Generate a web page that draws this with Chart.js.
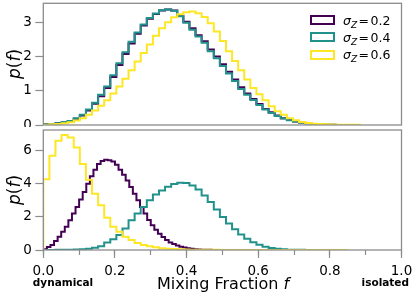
<!DOCTYPE html>
<html>
<head>
<meta charset="utf-8">
<script src="https://cdn.jsdelivr.net/npm/chart.js@4.4.1/dist/chart.umd.min.js"></script>
<style>
  html, body { margin: 0; padding: 0; background: #fff; }
  #wrap { position: relative; width: 416px; height: 298px; font-family: 'DejaVu Sans', sans-serif; color: #000; overflow: hidden; }
  #wrap canvas { position: absolute; left: 0; }
  .txt { position: absolute; white-space: nowrap; line-height: 1; }
  .ytitle { left: 14px; font-size: 17px; transform: translate(-50%, -50%) rotate(-90deg); }
  .xtitle { left: 223px; top: 276px; font-size: 16px; transform: translateX(-50%); }
  .side { top: 277px; font-size: 10.5px; font-weight: bold; }
  .leg-row { position: absolute; left: 310px; height: 13px; font-size: 12.5px; line-height: 13px; white-space: nowrap; }
  .leg-box { position: absolute; left: 0; top: 1.5px; width: 25px; height: 10px; box-sizing: border-box; border: 2px solid; background: #fff; }
  .leg-txt { position: absolute; left: 33px; top: 0; }
  .eq { margin: 0 1.5px; }
  .sub { font-size: 9px; font-style: italic; position: relative; top: 3px; }
</style>
</head>
<body>
<div id="wrap">
  <canvas id="topPanel" width="416" height="127" style="top:0"></canvas>
  <canvas id="bottomPanel" width="416" height="171" style="top:127px"></canvas>
  <div class="txt ytitle" style="top:64px"><i>p</i>(<i>f</i>)</div>
  <div class="txt ytitle" style="top:190px"><i>p</i>(<i>f</i>)</div>
  <div class="txt xtitle">Mixing Fraction <i>f</i></div>
  <div class="txt side" style="left:63px; transform: translateX(-50%)">dynamical</div>
  <div class="txt side" style="right:7px">isolated</div>
  <div id="legend"></div>
</div>
<script>
// bin widths of the histograms (f units)
const binWide = 0.017;
const binFine = 0.01;

const sigmaZ = ['0.2', '0.4', '0.6'];
const seriesColors = ['#440154', '#21918c', '#fde725'];

// top panel, p(f)
const topSig02 = [0.02, 0.03, 0.05, 0.07, 0.11, 0.18, 0.28, 0.42, 0.62, 0.84,
  1.08, 1.40, 1.75, 2.07, 2.38, 2.66, 2.90, 3.10, 3.24, 3.34,
  3.37, 3.34, 3.19, 3.01, 2.82, 2.62, 2.44, 2.20, 2.00, 1.77,
  1.55, 1.33, 1.10, 0.92, 0.76, 0.61, 0.47, 0.37, 0.28, 0.20,
  0.15, 0.10, 0.07, 0.05, 0.03, 0.02, 0.01, 0.01];
const topSig04 = [0.02, 0.03, 0.05, 0.08, 0.12, 0.20, 0.30, 0.45, 0.65, 0.88,
  1.12, 1.45, 1.80, 2.12, 2.43, 2.70, 2.93, 3.12, 3.25, 3.35,
  3.37, 3.33, 3.17, 2.98, 2.78, 2.58, 2.40, 2.15, 1.95, 1.72,
  1.50, 1.28, 1.05, 0.88, 0.73, 0.58, 0.45, 0.35, 0.26, 0.19,
  0.14, 0.10, 0.07, 0.05, 0.03, 0.02, 0.01, 0.01];
const topSig06 = [0.01, 0.02, 0.03, 0.05, 0.08, 0.13, 0.20, 0.30, 0.42, 0.56,
  0.72, 0.92, 1.12, 1.35, 1.60, 1.85, 2.10, 2.35, 2.60, 2.82,
  3.00, 3.14, 3.23, 3.29, 3.31, 3.26, 3.15, 2.97, 2.73, 2.45,
  2.15, 1.87, 1.60, 1.33, 1.08, 0.90, 0.72, 0.55, 0.40, 0.30,
  0.20, 0.14, 0.09, 0.06, 0.04, 0.03, 0.02, 0.015, 0.01, 0.01,
  0.005, 0.005];

// bottom panel, p(f)
const botSig02 = [0.05, 0.18, 0.30, 0.55, 0.80, 1.10, 1.40, 1.80, 2.20, 2.60,
  3.05, 3.50, 4.00, 4.45, 4.85, 5.20, 5.38, 5.45, 5.42, 5.35,
  5.15, 4.85, 4.55, 4.20, 3.80, 3.40, 3.00, 2.60, 2.20, 1.82,
  1.50, 1.22, 0.98, 0.78, 0.60, 0.46, 0.36, 0.27, 0.20, 0.15,
  0.10, 0.07, 0.05, 0.03, 0.02, 0.01, 0.01, 0.00];
const botSig04 = [0.00, 0.00, 0.01, 0.01, 0.02, 0.03, 0.05, 0.08, 0.13, 0.22,
  0.45, 0.65, 0.90, 1.30, 1.80, 2.20, 2.60, 3.00, 3.35, 3.60,
  3.82, 3.98, 4.06, 4.05, 3.90, 3.65, 3.30, 2.90, 2.45, 2.00,
  1.60, 1.25, 0.93, 0.68, 0.47, 0.31, 0.20, 0.12, 0.07, 0.04,
  0.02, 0.01, 0.01, 0.00, 0.00, 0.00];
const botSig06 = [4.27, 5.70, 6.60, 6.95, 6.80, 6.20, 5.20, 4.25, 3.40, 2.70,
  1.95, 1.40, 1.10, 0.80, 0.60, 0.42, 0.30, 0.22, 0.16, 0.11,
  0.08, 0.06, 0.04, 0.03, 0.02, 0.015, 0.01, 0.01, 0.008, 0.006,
  0.005, 0.004, 0.003, 0.003, 0.002, 0.002, 0.002, 0.001, 0.001, 0.001,
  0, 0, 0, 0, 0, 0, 0, 0, 0, 0];

const axisGray = '#8c8c8c';
const tickFont = { family: 'DejaVu Sans', size: 13.5 };

// outline of a step histogram: start at the baseline, one point per bin edge
function stepPoints(values, width) {
  const pts = [{ x: 0, y: 0 }];
  values.forEach((v, i) => pts.push({ x: i * width, y: v }));
  pts.push({ x: values.length * width, y: 0 });
  return pts;
}

function histSets(lists, widths) {
  return lists.map((vals, i) => ({
    label: 'σZ = ' + sigmaZ[i],
    data: stepPoints(vals, widths[i]),
    borderColor: seriesColors[i],
    borderWidth: 2,
    stepped: 'before',
    pointRadius: 0,
    fill: false,
    borderJoinStyle: 'miter',
    order: 3 - i
  }));
}

const framePlugin = {
  id: 'frame',
  afterDraw(chart) {
    const { ctx, chartArea: a } = chart;
    ctx.save();
    ctx.strokeStyle = axisGray;
    ctx.lineWidth = 1.3;
    ctx.strokeRect(a.left, a.top, a.right - a.left, a.bottom - a.top);
    ctx.restore();
  }
};

function yScale(max, step) {
  return {
    min: 0,
    max: max,
    ticks: { stepSize: step, includeBounds: false, font: tickFont, color: '#000', padding: 3.5 },
    grid: { drawOnChartArea: false, tickLength: 8, tickColor: axisGray, tickWidth: 1.2 },
    border: { display: false },
    afterFit: s => { s.width = 43.3; s.paddingTop = 0; s.paddingBottom = 0; }
  };
}

function baseOptions(padding) {
  return {
    responsive: false,
    animation: false,
    devicePixelRatio: 1,
    layout: { padding: padding, autoPadding: false },
    plugins: { legend: { display: false }, tooltip: { enabled: false } },
    events: []
  };
}

const topOpts = baseOptions({ left: 0, right: 14.5, top: 3.3, bottom: 2 });
topOpts.scales = {
  x: { type: 'linear', min: 0, max: 1, display: false },
  y: yScale(3.55, 1)
};
new Chart(document.getElementById('topPanel'), {
  type: 'line',
  data: { datasets: histSets([topSig02, topSig04, topSig06], [binWide, binWide, binWide]) },
  options: topOpts,
  plugins: [framePlugin]
});

const botOpts = baseOptions({ left: 0, right: 14.5, top: 3, bottom: 18 });
botOpts.scales = {
  xMinor: {
    type: 'linear', position: 'bottom', min: 0, max: 1, weight: 0,
    ticks: { stepSize: 0.1, display: false },
    grid: { drawOnChartArea: false, tickLength: 5, tickColor: axisGray, tickWidth: 1.2 },
    border: { display: false },
    afterFit: s => { s.height = 0; s.paddingLeft = 0; s.paddingRight = 0; }
  },
  x: {
    type: 'linear', position: 'bottom', min: 0, max: 1, weight: 1,
    ticks: { stepSize: 0.2, font: tickFont, color: '#000', padding: 5, maxRotation: 0, autoSkip: false,
      callback: v => v.toFixed(1) },
    grid: { drawOnChartArea: false, tickLength: 8, tickColor: axisGray, tickWidth: 1.2 },
    border: { display: false },
    afterFit: s => { s.height = 30; s.paddingLeft = 0; s.paddingRight = 0; }
  },
  y: yScale(7.25, 2)
};
new Chart(document.getElementById('bottomPanel'), {
  type: 'line',
  data: { datasets: histSets([botSig02, botSig04, botSig06], [binFine, binWide, binWide]) },
  options: botOpts,
  plugins: [framePlugin]
});

// legend (sigma_Z with a subscript), top right of the upper panel
const legend = document.getElementById('legend');
sigmaZ.forEach((s, i) => {
  const row = document.createElement('div');
  row.className = 'leg-row';
  row.style.top = (13.5 + i * 17.3) + 'px';
  row.innerHTML = '<span class="leg-box" style="border-color:' + seriesColors[i] + '"></span>' +
    '<span class="leg-txt"><i>σ</i><span class="sub">Z</span><span class="eq">=</span>' + s + '</span>';
  legend.appendChild(row);
});
</script>
</body>
</html>
